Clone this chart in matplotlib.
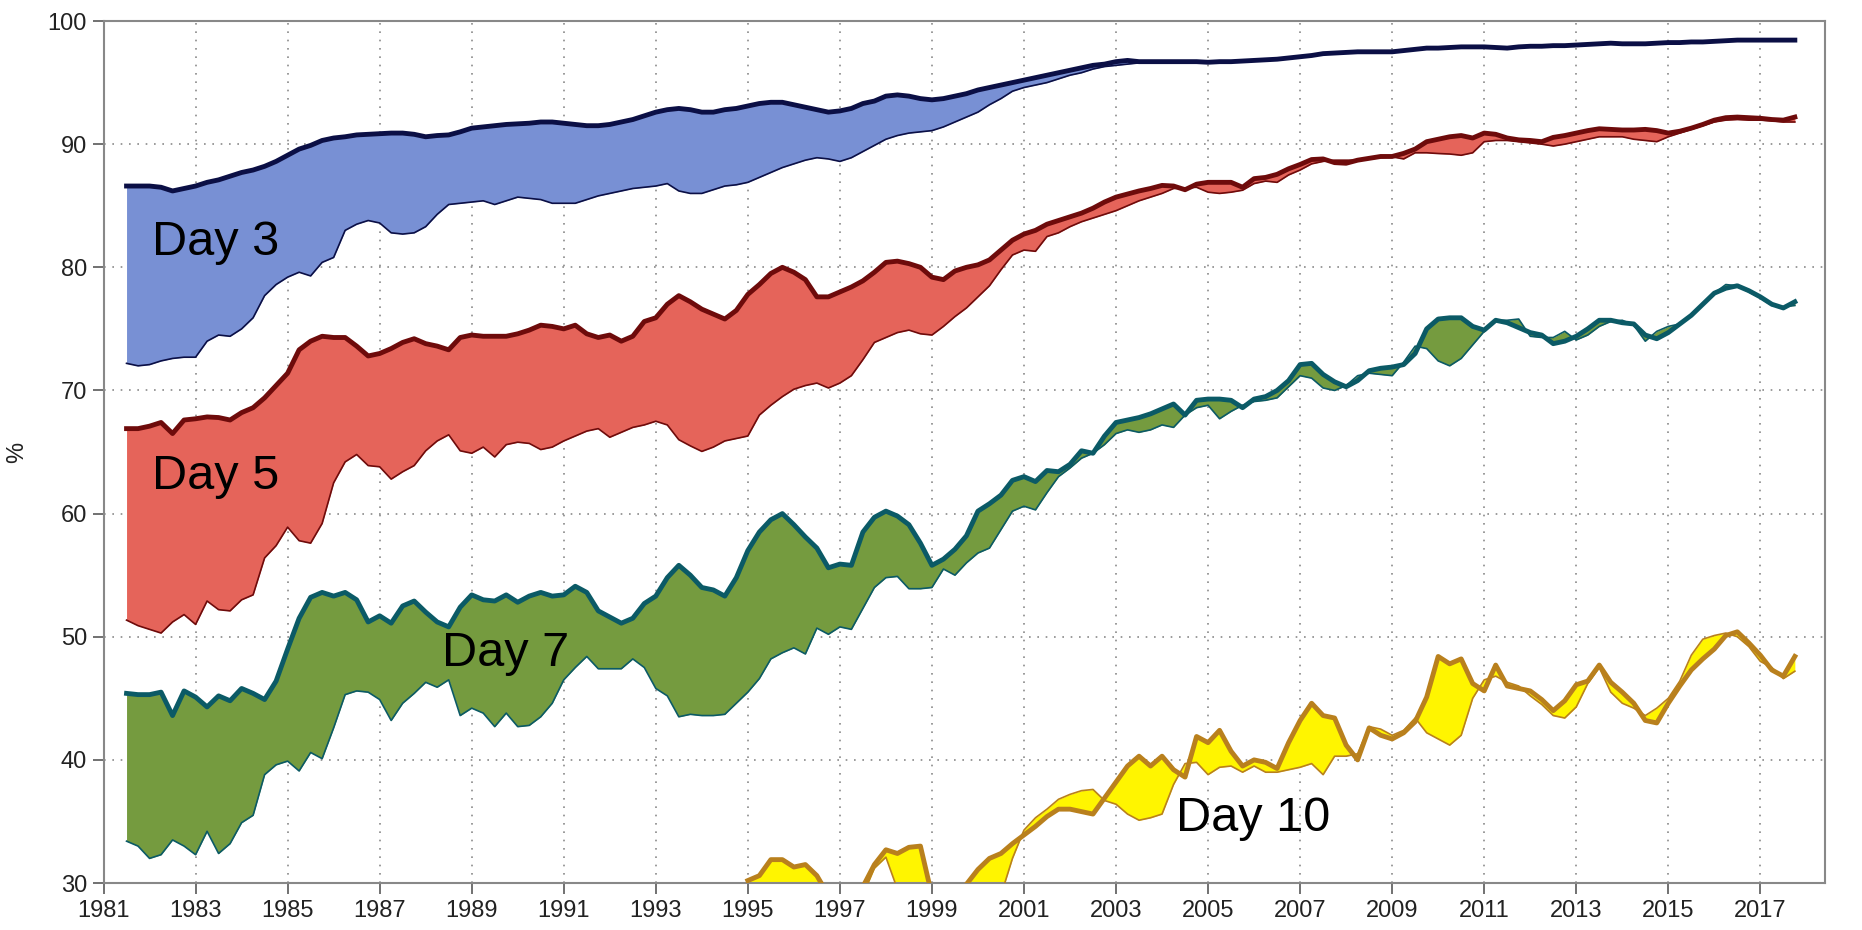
import matplotlib
matplotlib.use('Agg')
import matplotlib.pyplot as plt
import numpy as np

plt.rcParams['font.family'] = ['Liberation Sans', 'DejaVu Sans']

# quarterly time axis, mid-1981 to late 2017
years = np.arange(1981.5, 2017.76, 0.25)

# Day 3 band (percent)
d3_hi = [86.6, 86.6,
         86.6, 86.5, 86.2, 86.4,  86.6, 86.9, 87.1, 87.4,  87.7, 87.9, 88.2, 88.6,
         89.1, 89.6, 89.9, 90.3,  90.5, 90.6, 90.75, 90.8,  90.85, 90.9, 90.9, 90.8,
         90.6, 90.7, 90.75, 91.0,  91.3, 91.4, 91.5, 91.6,  91.65, 91.7, 91.8, 91.8,
         91.7, 91.6, 91.5, 91.5,  91.6, 91.8, 92.0, 92.3,  92.6, 92.8, 92.9, 92.8,
         92.6, 92.6, 92.8, 92.9,  93.1, 93.3, 93.4, 93.4,  93.2, 93.0, 92.8, 92.6,
         92.7, 92.9, 93.3, 93.5,  93.9, 94.0, 93.9, 93.7,  93.6, 93.7, 93.9, 94.1,
         94.4, 94.6, 94.8, 95.0,  95.2, 95.4, 95.6, 95.8,  96.0, 96.2, 96.4, 96.5,
         96.7, 96.8, 96.7, 96.7,  96.7, 96.7, 96.7, 96.7,  96.65, 96.7, 96.7, 96.75,
         96.8, 96.85, 96.9, 97.0,  97.1, 97.2, 97.35, 97.4,  97.45, 97.5, 97.5, 97.5,
         97.5, 97.6, 97.7, 97.8,  97.8, 97.85, 97.9, 97.9,  97.9, 97.85, 97.8, 97.9,
         97.95, 97.95, 98.0, 98.0,  98.05, 98.1, 98.15, 98.2,  98.15, 98.15, 98.15, 98.2,
         98.25, 98.25, 98.3, 98.3,  98.35, 98.4, 98.45, 98.45,  98.45, 98.45, 98.45, 98.45]
d3_lo = [72.2, 72.0,
         72.1, 72.4, 72.6, 72.7,  72.7, 74.0, 74.5, 74.4,  75.0, 75.9, 77.7, 78.6,
         79.2, 79.6, 79.3, 80.4,  80.8, 83.0, 83.5, 83.8,  83.6, 82.8, 82.7, 82.8,
         83.3, 84.3, 85.1, 85.2,  85.3, 85.4, 85.1, 85.4,  85.7, 85.6, 85.5, 85.2,
         85.2, 85.2, 85.5, 85.8,  86.0, 86.2, 86.4, 86.5,  86.6, 86.8, 86.2, 86.0,
         86.0, 86.3, 86.6, 86.7,  86.9, 87.3, 87.7, 88.1,  88.4, 88.7, 88.9, 88.8,
         88.6, 88.9, 89.4, 89.9,  90.4, 90.7, 90.9, 91.0,  91.1, 91.4, 91.8, 92.2,
         92.6, 93.2, 93.7, 94.3,  94.6, 94.8, 95.0, 95.3,  95.6, 95.8, 96.1, 96.3,
         96.4, 96.5, 96.6, 96.65,  96.65, 96.7, 96.7, 96.7,  96.6, 96.65, 96.65, 96.7,
         96.75, 96.8, 96.85, 96.95,  97.05, 97.15, 97.3, 97.35,  97.4, 97.45, 97.45, 97.45,
         97.45, 97.55, 97.65, 97.75,  97.75, 97.8, 97.85, 97.85,  97.85, 97.8, 97.75, 97.85,
         97.9, 97.9, 97.95, 97.95,  98.0, 98.05, 98.1, 98.15,  98.1, 98.1, 98.1, 98.15,
         98.2, 98.2, 98.25, 98.25,  98.3, 98.35, 98.4, 98.4,  98.4, 98.4, 98.4, 98.4]

# Day 5 band
d5_hi = [66.9, 66.9,
         67.1, 67.4, 66.5, 67.6,  67.7, 67.85, 67.8, 67.6,  68.2, 68.6, 69.4, 70.4,
         71.4, 73.3, 74.0, 74.4,  74.3, 74.3, 73.6, 72.8,  73.0, 73.4, 73.9, 74.2,
         73.8, 73.6, 73.3, 74.3,  74.5, 74.4, 74.4, 74.4,  74.6, 74.9, 75.3, 75.2,
         75.0, 75.3, 74.6, 74.3,  74.5, 74.0, 74.4, 75.6,  75.9, 77.0, 77.7, 77.2,
         76.6, 76.2, 75.8, 76.5,  77.8, 78.6, 79.5, 80.0,  79.6, 79.0, 77.6, 77.6,
         78.0, 78.4, 78.9, 79.6,  80.4, 80.5, 80.3, 80.0,  79.2, 79.0, 79.7, 80.0,
         80.2, 80.6, 81.4, 82.2,  82.7, 83.0, 83.5, 83.8,  84.1, 84.4, 84.8, 85.3,
         85.7, 85.95, 86.2, 86.4,  86.65, 86.6, 86.3, 86.75,  86.9, 86.9, 86.9, 86.5,
         87.2, 87.3, 87.55, 88.0,  88.35, 88.75, 88.8, 88.5,  88.45, 88.7, 88.85, 89.0,
         89.0, 89.25, 89.6, 90.2,  90.4, 90.6, 90.7, 90.5,  90.9, 90.8, 90.5, 90.35,
         90.3, 90.2, 90.55, 90.7,  90.9, 91.1, 91.25, 91.2,  91.15, 91.15, 91.2, 91.1,
         90.9, 91.05, 91.3, 91.6,  91.95, 92.15, 92.2, 92.15,  92.1, 92.0, 91.95, 92.2]
d5_lo = [51.35, 50.9,
         50.6, 50.3, 51.2, 51.8,  51.0, 52.9, 52.2, 52.1,  53.0, 53.4, 56.4, 57.4,
         58.9, 57.8, 57.6, 59.2,  62.5, 64.2, 64.8, 63.9,  63.8, 62.8, 63.4, 63.9,
         65.1, 65.9, 66.4, 65.1,  64.9, 65.4, 64.6, 65.6,  65.8, 65.7, 65.2, 65.4,
         65.9, 66.3, 66.7, 66.9,  66.2, 66.6, 67.0, 67.2,  67.5, 67.2, 66.0, 65.5,
         65.05, 65.4, 65.9, 66.1,  66.3, 68.0, 68.8, 69.5,  70.1, 70.4, 70.6, 70.2,
         70.6, 71.2, 72.5, 73.9,  74.3, 74.7, 74.9, 74.6,  74.5, 75.2, 76.0, 76.7,
         77.6, 78.5, 79.8, 81.0,  81.4, 81.3, 82.5, 82.8,  83.3, 83.7, 84.0, 84.3,
         84.6, 85.0, 85.4, 85.7,  86.0, 86.4, 86.45, 86.5,  86.1, 86.0, 86.1, 86.26,
         86.8, 87.0, 86.9, 87.5,  87.9, 88.4, 88.6, 88.7,  88.7, 88.7, 88.8, 88.9,
         88.97, 88.8, 89.3, 89.3,  89.24, 89.2, 89.1, 89.3,  90.2, 90.3, 90.3, 90.2,
         90.1, 90.0, 89.85, 90.0,  90.2, 90.4, 90.6, 90.6,  90.6, 90.4, 90.3, 90.2,
         90.6, 90.9, 91.2, 91.5,  91.8, 91.95, 92.0, 91.95,  91.95, 91.9, 91.8, 91.8]

# Day 7 band
d7_hi = [45.4, 45.3,
         45.3, 45.5, 43.6, 45.6,  45.1, 44.3, 45.2, 44.8,  45.8, 45.4, 44.9, 46.4,
         49.0, 51.5, 53.2, 53.6,  53.3, 53.6, 53.0, 51.2,  51.7, 51.1, 52.5, 52.9,
         52.0, 51.2, 50.8, 52.4,  53.4, 53.0, 52.9, 53.4,  52.8, 53.3, 53.6, 53.3,
         53.4, 54.1, 53.6, 52.1,  51.6, 51.1, 51.5, 52.7,  53.3, 54.8, 55.8, 55.0,
         54.0, 53.8, 53.3, 54.8,  57.0, 58.5, 59.5, 60.0,  59.1, 58.1, 57.2, 55.6,
         55.9, 55.8, 58.5, 59.7,  60.2, 59.8, 59.1, 57.6,  55.8, 56.3, 57.1, 58.2,
         60.2, 60.8, 61.5, 62.7,  63.0, 62.6, 63.5, 63.4,  64.0, 65.1, 64.9, 66.3,
         67.4, 67.6, 67.8, 68.1,  68.5, 68.9, 68.0, 69.2,  69.3, 69.3, 69.2, 68.6,
         69.3, 69.5, 70.0, 70.8,  72.1, 72.2, 71.3, 70.7,  70.3, 70.8, 71.6, 71.8,
         71.9, 72.1, 73.0, 75.0,  75.8, 75.9, 75.9, 75.2,  74.9, 75.7, 75.5, 75.1,
         74.7, 74.5, 73.8, 74.0,  74.4, 75.0, 75.7, 75.7,  75.5, 75.4, 74.5, 74.2,
         74.7, 75.4, 76.1, 77.0,  77.9, 78.3, 78.5, 78.1,  77.6, 77.0, 76.7, 77.2]
d7_lo = [33.4, 33.0,
         32.0, 32.3, 33.5, 33.0,  32.3, 34.2, 32.4, 33.2,  34.9, 35.5, 38.8, 39.6,
         39.9, 39.1, 40.6, 40.1,  42.6, 45.3, 45.6, 45.5,  44.9, 43.2, 44.6, 45.4,
         46.3, 45.9, 46.5, 43.6,  44.2, 43.8, 42.7, 43.8,  42.7, 42.8, 43.5, 44.6,
         46.5, 47.5, 48.4, 47.4,  47.4, 47.4, 48.2, 47.5,  45.8, 45.2, 43.5, 43.7,
         43.6, 43.6, 43.7, 44.6,  45.5, 46.6, 48.2, 48.7,  49.1, 48.6, 50.7, 50.2,
         50.8, 50.6, 52.3, 54.0,  54.8, 54.9, 53.9, 53.9,  54.0, 55.5, 55.0, 56.0,
         56.8, 57.2, 58.7, 60.2,  60.6, 60.3, 61.7, 63.0,  63.7, 64.5, 64.9, 65.6,
         66.5, 66.8, 66.6, 66.8,  67.2, 67.0, 68.0, 68.6,  68.8, 67.7, 68.3, 68.8,
         69.1, 69.2, 69.4, 70.3,  71.2, 71.0, 70.2, 70.0,  70.4, 71.2, 71.4, 71.3,
         71.2, 72.3, 73.6, 73.4,  72.4, 72.0, 72.6, 73.7,  74.8, 75.7, 75.7, 75.8,
         74.4, 74.3, 74.3, 74.8,  74.1, 74.5, 75.2, 75.6,  75.7, 75.3, 74.0, 74.8,
         75.2, 75.4, 76.2, 77.0,  77.9, 78.6, 78.5, 78.0,  77.5, 76.9, 76.8, 76.9]

# Day 10 band, from 1995 on (earlier values sit below the 30 % axis floor)
d10_years = years[54:]
d10_hi = [30.2, 30.6, 31.9, 31.9,  31.3, 31.5, 30.6, 29.0,  28.0, 28.0, 29.7, 31.5,
          32.7, 32.4, 32.9, 33.0,  29.0, 28.0, 28.0, 29.9,  31.1, 32.0, 32.4, 33.2,
          33.9, 34.6, 35.4, 36.0,  36.0, 35.8, 35.6, 36.9,  38.2, 39.5, 40.3, 39.5,
          40.3, 39.2, 38.6, 41.9,  41.4, 42.4, 40.7, 39.5,  40.0, 39.8, 39.3, 41.4,
          43.2, 44.6, 43.6, 43.4,  41.2, 40.0, 42.6, 42.0,  41.7, 42.2, 43.1, 45.1,
          48.4, 47.8, 48.2, 46.2,  45.6, 47.7, 46.0, 45.8,  45.6, 44.9, 44.0, 44.8,
          46.1, 46.4, 47.7, 46.3,  45.5, 44.6, 43.2, 43.0,  44.6, 46.0, 47.3, 48.2,
          49.0, 50.1, 50.4, 49.5,  48.5, 47.3, 46.8, 48.4]
d10_lo = [28.0, 28.0, 28.0, 28.0,  28.0, 28.0, 28.0, 28.0,  28.0, 28.0, 29.0, 31.2,
          32.1, 29.5, 28.5, 28.0,  28.0, 28.0, 28.0, 28.0,  28.0, 28.0, 29.0, 32.0,
          34.3, 35.3, 36.0, 36.8,  37.2, 37.5, 37.6, 36.7,  36.4, 35.6, 35.1, 35.3,
          35.6, 38.0, 39.7, 39.8,  38.8, 39.4, 39.5, 39.0,  39.5, 39.0, 39.0, 39.2,
          39.4, 39.7, 38.8, 40.3,  40.3, 40.5, 42.7, 42.5,  42.0, 42.4, 43.4, 42.2,
          41.7, 41.2, 42.0, 45.0,  46.5, 46.8, 46.3, 46.0,  45.2, 44.5, 43.6, 43.4,
          44.3, 46.2, 47.5, 45.5,  44.6, 44.2, 43.6, 44.2,  45.0, 46.4, 48.5, 49.8,
          50.1, 50.3, 50.0, 49.2,  48.0, 47.5, 46.6, 47.2]

bands = [
    ("Day 3", years, d3_hi, d3_lo, '#7890d4', '#0b0f45', (1982.05, 81.0)),
    ("Day 5", years, d5_hi, d5_lo, '#e5645a', '#6e0b0b', (1982.05, 62.0)),
    ("Day 7", years, d7_hi, d7_lo, '#759b3f', '#0b5a66', (1988.35, 47.6)),
    ("Day 10", d10_years, d10_hi, d10_lo, '#fff500', '#b9801d', (2004.3, 34.2)),
]

fig = plt.figure(figsize=(18.62, 9.30), dpi=100)
ax = fig.add_axes([0.0556, 0.0505, 0.9244, 0.9269])

for name, x, hi, lo, fill_c, line_c, (tx, ty) in bands:
    ax.fill_between(x, lo, hi, color=fill_c, linewidth=0, zorder=2)
    ax.plot(x, lo, color=line_c, lw=1.2, zorder=3)
    ax.plot(x, hi, color=line_c, lw=3.5, zorder=4, solid_joinstyle='round')
    ax.text(tx, ty, name, fontsize=35, color='black', va='baseline', zorder=6)

ax.set_xlim(1981, 2018.4)
ax.set_ylim(30, 100)
ax.set_xticks(np.arange(1981, 2018, 2))
ax.set_yticks(np.arange(30, 101, 10))
ax.grid(True, linestyle=(0, (1, 4)), color='#8a8a8a', linewidth=1.2, zorder=1)
ax.set_axisbelow(True)

ax.tick_params(direction='out', length=8, width=1.3, color='#666666',
               labelsize=17, labelcolor='#222222', pad=4)
for sp in ax.spines.values():
    sp.set_color('#888888')
    sp.set_linewidth(1.5)

ax.set_ylabel('%', fontsize=17, color='#222222')
ax.yaxis.set_label_coords(-0.044, 0.5)

plt.savefig('out.png', dpi=100)
plt.close(fig)
